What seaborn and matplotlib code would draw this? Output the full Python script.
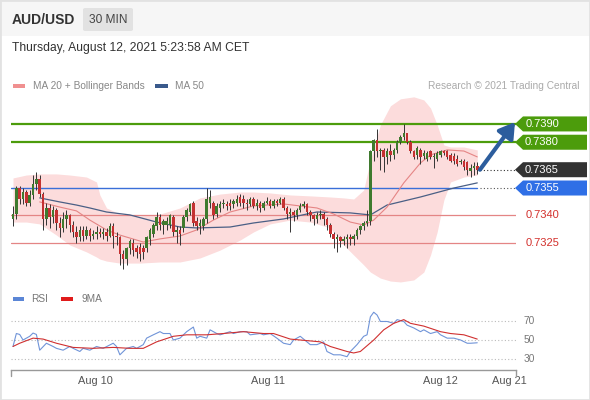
import numpy as np
import matplotlib
matplotlib.use("Agg")
import matplotlib.pyplot as plt
import seaborn as sns
from matplotlib.patches import Polygon, Rectangle, FancyBboxPatch
from matplotlib.transforms import blended_transform_factory

# ---------------- data ----------------
opens = [.7338, .7341, .7355, .7349, .7353, .7347, .7351, .7357, .7360, .7352,
         .7338, .7344, .7339, .7343, .7336, .7333, .7338, .7340, .7335, .7331,
         .7328, .7332, .7329, .7332, .7329, .7330, .7331, .7330, .7331, .7329,
         .7334, .7329, .7328, .7319, .7316, .7322, .7325, .7322, .7323, .7322,
         .7322, .7327, .7330, .7334, .7339, .7335, .7335, .7335, .7339, .7331,
         .7332, .7333, .7339, .7342, .7347, .7337, .7334, .7334, .7338, .7347,
         .7347, .7341, .7344, .7346, .7346, .7347, .7346, .7347, .7350, .7349,
         .7347, .7346, .7349, .7345, .7347, .7344, .7347, .7348, .7345, .7348,
         .7347, .7349, .7344, .7341, .7342, .7340, .7343, .7345, .7346, .7342,
         .7340, .7338, .7340, .7341, .7338, .7335, .7330, .7327, .7328, .7326,
         .7327, .7328, .7327, .7329, .7332, .7334, .7336, .7337, .7375, .7381,
         .7375, .7376, .7372, .7375, .7373, .7376, .7380, .7383, .7385, .7380,
         .7375, .7373, .7376, .73725, .7371, .7375, .7372, .7371, .7373, .7375,
         .7375, .7373, .73725, .7371, .7369, .7370, .7369, .73645, .7366, .7367]
closes = [.7341, .7355, .7349, .7353, .7347, .7351, .7357, .7360, .7352, .7338,
          .7344, .7339, .7343, .7336, .7333, .7338, .7340, .7335, .7331, .7328,
          .7332, .7329, .7332, .7329, .7330, .7331, .7330, .7331, .7329, .7334,
          .7329, .7328, .7319, .7316, .7322, .7326, .7321, .7320, .7319, .7320,
          .7328, .7332, .7335, .7339, .7335, .7337, .7337, .7340, .7331, .7332,
          .7330, .7339, .7343, .7346, .7336, .7334, .7336, .7338, .7349, .7350,
          .7340, .7345, .7346, .7347, .7345, .7345, .7348, .7349, .7347, .7347,
          .7346, .7349, .7345, .7347, .7344, .7347, .7348, .7345, .7348, .7347,
          .7349, .7344, .7341, .7342, .7340, .7343, .7345, .7346, .7342, .7340,
          .7338, .7340, .7341, .7338, .7335, .7330, .7327, .7328, .7326, .7327,
          .7328, .7327, .7329, .7332, .7334, .7336, .7337, .7375, .7381, .7375,
          .7376, .7372, .7375, .7373, .7376, .7380, .7383, .7385, .7380, .7375,
          .7372, .7377, .7372, .7374, .7374, .7372, .73725, .7374, .7375, .7374,
          .7372, .7370, .7370, .7368, .7370, .73665, .7365, .7366, .7367, .7365]
highs = [.7345, .7356, .7356, .7355, .7354, .7354, .7362, .7364, .7362, .7353,
         .7347, .7346, .7345, .7344, .7339, .7342, .7343, .7341, .7337, .7334,
         .7334, .7334, .7334, .7333, .7332, .7334, .7333, .7333, .7333, .7336,
         .7336, .7331, .7329, .7321, .7323, .7327, .7327, .7324, .7325, .7324,
         .7329, .7333, .7336, .7342, .7341, .7338, .7339, .7341, .7340, .7334,
         .7334, .7340, .7344, .7347, .7348, .7339, .7338, .7339, .7355, .7354,
         .7348, .7347, .7348, .7349, .7348, .7349, .7349, .7351, .7352, .7351,
         .7349, .7350, .7350, .7349, .7348, .7348, .7350, .7349, .7349, .7349,
         .7350, .7350, .7345, .7344, .7343, .7344, .7347, .7348, .7347, .7343,
         .7341, .7342, .7343, .7342, .7339, .7336, .7331, .7330, .7329, .7329,
         .7330, .7330, .7330, .7333, .7335, .7337, .7343, .7376, .7382, .7387,
         .7377, .7377, .7377, .7379, .7377, .7381, .7384, .7390, .7385, .7381,
         .7376, .7378, .7377, .7376, .7375, .7376, .7374, .7375, .7376, .7376,
         .7376, .7374, .7374, .7373, .7371, .7371, .7370, .7368, .7369, .7369]
lows = [.7334, .7338, .7346, .7346, .7345, .7345, .7349, .7354, .7350, .7332,
        .7335, .7333, .7336, .7332, .7328, .7331, .7333, .7331, .7328, .7325,
        .7326, .7326, .7327, .7326, .7327, .7327, .7328, .7327, .7326, .7328,
        .7322, .7324, .7313, .7311, .7313, .7319, .7318, .7317, .7315, .7316,
        .7320, .7324, .7328, .7332, .7332, .7330, .7332, .7333, .7329, .7325,
        .7324, .7331, .7337, .7340, .7334, .7332, .7330, .7332, .7336, .7344,
        .7338, .7339, .7342, .7344, .7343, .7343, .7344, .7345, .7345, .7344,
        .7343, .7345, .7344, .7343, .7342, .7343, .7346, .7344, .7344, .7345,
        .7346, .7343, .7338, .7331, .7337, .7338, .7342, .7344, .7340, .7337,
        .7335, .7336, .7338, .7335, .7332, .7328, .7322, .7320, .7323, .7324,
        .7322, .7324, .7324, .7327, .7330, .7332, .7334, .7335, .7370, .7372,
        .7365, .7364, .7368, .7370, .7371, .7374, .7379, .7381, .7379, .7374,
        .7371, .7371, .7368, .7371, .7370, .7371, .7366, .7370, .7372, .7373,
        .7371, .7369, .7368, .7367, .7368, .7365, .7362, .7361, .7362, .73625]

bb_idx = [0, 4, 8, 13, 17, 22, 25, 26, 28, 32, 38, 44, 50, 56, 62, 68, 72, 77, 83, 89,
          95, 99, 102, 105, 107, 110, 113, 116, 120, 123, 125, 127, 129, 131, 135, 139]
bb_upper = [.73605, .73621, .73627, .73627, .73621, .73610, .73583, .73512, .73441, .73408,
            .73397, .73408, .73441, .73496, .73517, .73528, .73528, .73523, .73512, .73507,
            .73501, .73496, .73490, .73539, .73703, .73895, .73999, .74037, .74048, .74031,
            .73987, .73895, .73785, .73774, .73774, .73758]
bb_lower = [.73364, .73364, .73354, .73293, .73239, .73201, .73173, .73162, .73151, .73140,
            .73140, .73146, .73146, .73168, .73211, .73266, .73310, .73354, .73375, .73364,
            .73332, .73239, .73184, .73130, .73091, .73058, .73042, .73037, .73048, .73091,
            .73184, .73310, .73485, .73583, .73610, .73621]

ma20_idx = [8, 14, 19, 23, 28, 32, 39, 44, 50, 55, 60, 65, 72, 81, 91, 96, 101, 105, 108,
            112, 117, 122, 125, 130, 135, 139]
ma20_vals = [.73474, .73446, .73425, .73375, .73321, .73293, .73255, .73272, .73288, .73321,
             .73375, .73419, .73452, .73463, .73441, .73408, .73364, .73348, .73375, .73446,
             .73578, .73687, .73731, .73758, .73752, .73720]
ma50_idx = [8, 14, 19, 23, 28, 35, 43, 50, 55, 65, 72, 81, 88, 91, 101, 107, 112, 122, 132, 139]
ma50_vals = [.73496, .73474, .73457, .73441, .73419, .73403, .73364, .73337, .73332, .73337,
             .73359, .73381, .73408, .73419, .73414, .73403, .73457, .73501, .73550, .73578]

rsi_idx = [0, 1, 2, 3, 5, 6, 7, 8, 10, 12, 13, 15, 17, 18, 20, 21, 23, 25, 27, 30,
           31, 32, 34, 36, 37, 39, 40, 42, 44, 45, 47, 48, 50, 52, 54, 55, 56, 58, 59, 61,
           62, 65, 66, 68, 70, 71, 74, 75, 77, 79, 81, 83, 84, 86, 88, 89, 91, 93, 94, 96,
           98, 100, 101, 103, 105, 106, 107, 108, 109, 110, 112, 114, 115, 117, 118, 120, 122,
           123, 125, 127, 128, 130, 132, 134, 136, 137, 139]
rsi_vals = [43, 57, 56, 50, 54, 57.5, 56, 39, 46.5, 43, 41, 39, 43, 41, 37.6, 41, 39, 43, 41, 46.5,
            43, 34, 41, 43, 41, 45, 52, 55.6, 59, 57, 57, 50, 52, 59, 64, 52, 54, 52, 61, 57,
            55.6, 59, 57, 59, 59, 55.6, 57, 55.6, 57, 52, 46.5, 45, 50, 54, 48, 45, 45, 48, 37.6, 34,
            34, 32, 37.6, 45, 54, 55.6, 75, 80, 77, 70, 70, 68, 72, 70, 66, 63, 59,
            61, 57, 59, 55.6, 52, 52, 50, 46.5, 46.5, 47]
ma9_idx = [0, 2, 6, 9, 13, 18, 24, 30, 35, 39, 43, 48, 52, 58, 63, 69, 75, 78, 83, 86, 92, 95,
           100, 102, 104, 108, 111, 114, 117, 119, 123, 128, 131, 135, 139]
ma9_vals = [43, 46.5, 52, 51, 46.5, 42, 41, 42, 41, 41, 48, 54, 55.6, 55.6, 57, 59, 57, 57, 51, 50,
            48, 43, 37.6, 36, 37.6, 50, 61, 68, 72, 68, 65, 59, 57, 55.6, 51]
rsi_levels = [70, 50, 30]

res_levels = [0.7390, 0.7380]
pivot_level = 0.7365
sup_main = 0.7355
sup_levels = [0.7340, 0.7325]

tick_pos = [24.6, 76.3, 128.1, 148.5]
tick_labels = ["Aug 10", "Aug 11", "Aug 12", "Aug 21"]

# ---------------- style ----------------
sns.set_theme(style="white")
plt.rcParams['font.family'] = ['Liberation Sans', 'DejaVu Sans']

W, H = 590, 400
fig = plt.figure(figsize=(5.9, 4.0), dpi=100)
fig.patch.set_facecolor('white')

def fx(x):
    return x / W

def fy(y):
    return 1 - y / H

# header
fig.patches.append(Rectangle((0, fy(36)), 1, 36 / H, transform=fig.transFigure,
                             fc='#f6f6f6', ec='none', zorder=0))
fig.patches.append(FancyBboxPatch((fx(83), fy(31)), (133 - 83) / W, 23 / H,
                                  boxstyle='round,pad=0,rounding_size=0.004',
                                  transform=fig.transFigure, fc='#e2e2e2', ec='none', zorder=1))
fig.text(fx(12), fy(20), "AUD/USD", fontsize=10, fontweight='bold', color='#333333',
         va='center', ha='left')
fig.text(fx(108), fy(20), "30 MIN", fontsize=8.6, color='#444444', va='center', ha='center')
fig.text(fx(12), fy(48), "Thursday, August 12, 2021 5:23:58 AM CET", fontsize=8.7,
         color='#333333', va='center', ha='left')

# legends
fig.patches.append(Rectangle((fx(13), fy(88)), 12 / W, 4 / H, transform=fig.transFigure,
                             fc='#f09090', ec='none'))
fig.text(fx(33), fy(86), "MA 20 + Bollinger Bands", fontsize=7.3, color='#888888', va='center')
fig.patches.append(Rectangle((fx(155), fy(88)), 13 / W, 4 / H, transform=fig.transFigure,
                             fc='#3a5a8c', ec='none'))
fig.text(fx(175), fy(86), "MA 50", fontsize=7.3, color='#888888', va='center')
fig.text(fx(580), fy(86), "Research \u00a9 2021 Trading Central", fontsize=7.3,
         color='#aaaaaa', va='center', ha='right')

fig.patches.append(Rectangle((fx(13), fy(301)), 11 / W, 4 / H, transform=fig.transFigure,
                             fc='#5b86d6', ec='none'))
fig.text(fx(31), fy(299), "RSI", fontsize=7.3, color='#777777', va='center')
fig.patches.append(Rectangle((fx(61), fy(301)), 12 / W, 4 / H, transform=fig.transFigure,
                             fc='#e01b1b', ec='none'))
fig.text(fx(81), fy(299), "9MA", fontsize=7.3, color='#777777', va='center')

# border
fig.patches.append(Rectangle((0, 0), 1, 1, transform=fig.transFigure, fill=False,
                             ec='#e2e2e2', lw=2, zorder=10))

# ---------------- main chart ----------------
XL = (-0.6, 150.6)
ax = fig.add_axes([fx(11), fy(290), fx(516) - fx(11), fy(95) - fy(290)])
ax.set_xlim(*XL)
ax.set_ylim(0.72993, 0.74058)
ax.axis('off')

ax.fill_between(bb_idx, bb_lower, bb_upper, color='#fcdcdc', lw=0, zorder=1)

n = len(closes)
xs = np.arange(n)
last_x = xs[-1]

for lv in res_levels:
    ax.axhline(lv, color='#4c9c0c', lw=1.6, zorder=2)
for lv in sup_levels:
    ax.axhline(lv, color='#e48585', lw=0.9, zorder=2)
ax.plot([XL[0], last_x], [sup_main, sup_main], color='#3a6fd8', lw=1.0, zorder=2)
ax.plot([last_x + 0.8, XL[1]], [sup_main, sup_main], color='#555555', lw=0.8,
        ls=(0, (1, 2)), zorder=2)
ax.plot([last_x + 0.8, XL[1]], [pivot_level, pivot_level], color='#333333', lw=0.8,
        ls=(0, (1, 2)), zorder=2)

sns.lineplot(x=ma50_idx, y=ma50_vals, ax=ax, color='#4a5f85', lw=0.9, legend=False, zorder=3)
sns.lineplot(x=ma20_idx, y=ma20_vals, ax=ax, color='#e58585', lw=0.8, legend=False, zorder=3)

o = np.array(opens); c = np.array(closes); hi = np.array(highs); lo = np.array(lows)
up = c >= o
colors = np.where(up, '#3f7a2e', '#c43131')
ax.vlines(xs, lo, hi, color='#333333', lw=0.7, zorder=4)
body_h = np.maximum(np.abs(c - o), 0.00004)
ax.bar(xs, body_h, bottom=np.minimum(o, c), width=0.75, color=colors, lw=0, zorder=5)

# level tags
trans = blended_transform_factory(ax.transAxes, ax.transData)
hh = 0.00041
tip, x1, x2 = (515 - 11) / 505, (523 - 11) / 505, (587 - 11) / 505
xtext = (542 - 11) / 505

def tag(y, fc):
    poly = Polygon([[tip, y], [x1, y + hh], [x2, y + hh], [x2, y - hh], [x1, y - hh]],
                   closed=True, transform=trans, fc=fc, ec='none', clip_on=False, zorder=6)
    ax.add_patch(poly)
    ax.text(xtext, y, f"{y:.4f}", transform=trans, color='white', ha='center',
            va='center', fontsize=8, zorder=7, clip_on=False)

for lv in res_levels:
    tag(lv, '#4c9c0c')
tag(pivot_level, '#333333')
tag(sup_main, '#2f6fe6')
for lv in sup_levels:
    ax.text((526 - 11) / 505, lv, f"{lv:.4f}", transform=trans, color='#d3302c',
            ha='left', va='center', fontsize=8, clip_on=False)

ax.annotate('', xy=(XL[1] - 0.3, res_levels[0] + 0.0001), xytext=(last_x + 0.8, closes[-1]),
            arrowprops=dict(arrowstyle='-|>,head_length=0.65,head_width=0.4', lw=3,
                            color='#2c5d9d', mutation_scale=14, shrinkA=0, shrinkB=0),
            annotation_clip=False, zorder=8)

# ---------------- RSI panel ----------------
ax2 = fig.add_axes([fx(11), fy(370), fx(516) - fx(11), fy(305) - fy(370)])
ax2.set_xlim(*XL)
ax2.set_ylim(17.6, 87.8)
for s in ['top', 'left', 'right']:
    ax2.spines[s].set_visible(False)
ax2.spines['bottom'].set_color('#999999')
ax2.spines['bottom'].set_linewidth(1.0)
ax2.set_facecolor('none')
for lv in rsi_levels:
    ax2.axhline(lv, color='#bbbbbb', lw=0.8, ls=(0, (1, 2)), zorder=1)
    ax2.text((524 - 11) / 505, lv, f"{lv}", transform=blended_transform_factory(ax2.transAxes, ax2.transData),
             color='#777777', fontsize=7.3, va='center', ha='left', clip_on=False)
sns.lineplot(x=rsi_idx, y=rsi_vals, ax=ax2, color='#7094d8', lw=0.8, legend=False, zorder=2)
sns.lineplot(x=ma9_idx, y=ma9_vals, ax=ax2, color='#d03030', lw=0.8, legend=False, zorder=3)
ax2.set_xlabel('')
ax2.set_ylabel('')
ax2.set_yticks([])
ax2.set_xticks(tick_pos)
ax2.set_xticklabels(tick_labels, fontsize=7.9, color='#555555')
ax2.tick_params(axis='x', length=0, pad=4)
for xe in [0, 1]:
    ax2.plot([xe, xe], [0, -0.09], transform=ax2.transAxes, color='#999999', lw=1.0,
             clip_on=False)

fig.savefig('out.png', dpi=100)
